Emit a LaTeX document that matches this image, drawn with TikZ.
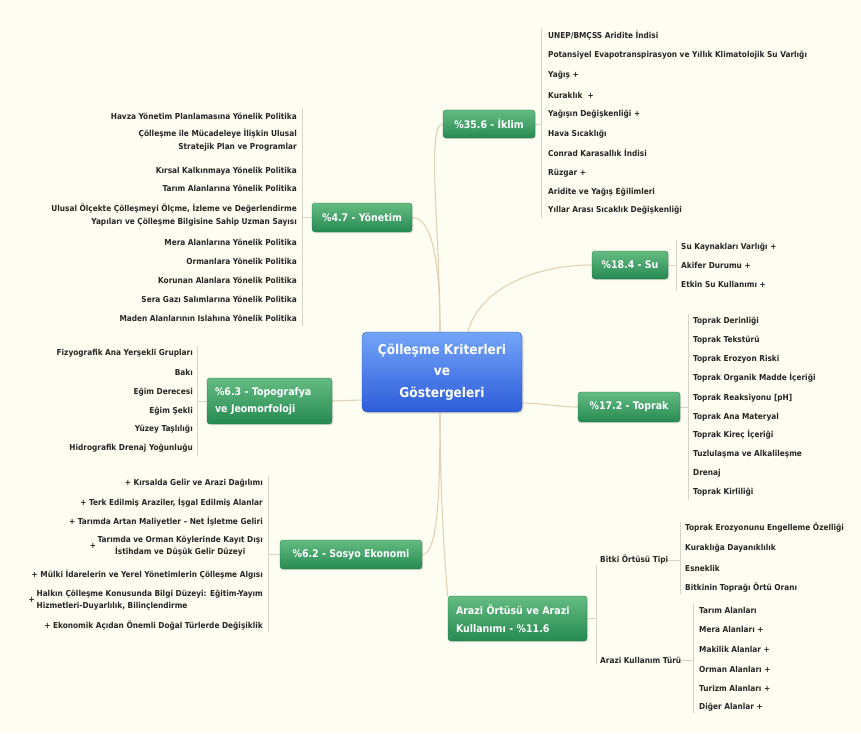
\documentclass[tikz,border=0pt]{standalone}
\usepackage{fontspec}
\setmainfont{DejaVu Sans Condensed}
\usetikzlibrary{shadows}
\definecolor{bgc}{RGB}{254,253,241}
\definecolor{gtop}{RGB}{100,188,130}
\definecolor{gbot}{RGB}{38,138,82}
\definecolor{btop}{RGB}{115,165,248}
\definecolor{bbot}{RGB}{45,92,218}
\definecolor{connc}{RGB}{222,211,182}
\definecolor{brkc}{RGB}{212,212,200}
\definecolor{leafc}{RGB}{38,38,38}
\pgfdeclarelayer{bottom}
\pgfdeclarelayer{bgl}
\pgfsetlayers{bottom,bgl,main}
\tikzset{
  branch/.style={rounded corners=3pt, top color=gtop, bottom color=gbot,
    draw=gbot!85!black, line width=0.3pt, text=white,
    font=\bfseries\fontsize{10.5}{17.5}\selectfont, inner sep=0pt,
    drop shadow={opacity=0.22, shadow xshift=1.2pt, shadow yshift=-1.2pt}},
  centre/.style={rounded corners=5pt, top color=btop, bottom color=bbot,
    draw=bbot!80!black, line width=0.4pt, text=white, align=center,
    font=\bfseries\fontsize{13.5}{21.5}\selectfont, inner sep=0pt,
    minimum width=160pt, minimum height=80pt,
    drop shadow={opacity=0.25, shadow xshift=1.5pt, shadow yshift=-1.5pt}},
  leafL/.style={anchor=west, inner sep=0pt, text=leafc,
    font=\bfseries\fontsize{8.2}{12.5}\selectfont},
  leafR/.style={leafL, anchor=east, align=right},
  connline/.style={draw=connc, line width=1.1pt},
  brkline/.style={draw=brkc, line width=0.8pt}
}
\begin{document}
\begin{tikzpicture}[x=1pt,y=-1pt]
\begin{pgfonlayer}{bottom}
\fill[bgc] (0,0) rectangle (861,733);
\end{pgfonlayer}
\useasboundingbox (0,0) rectangle (861,733);

% central topic
\node[centre] (c) at (442,372) {Çölleşme Kriterleri\\ve\\Göstergeleri};

% main branches
\node[branch, minimum width=92pt, minimum height=28pt] (ik) at (489,124) {\%35.6 - İklim};
\node[branch, minimum width=100pt, minimum height=29pt] (yo) at (362,217.5) {\%4.7 - Yönetim};
\node[branch, minimum width=76pt, minimum height=28pt] (su) at (630,265) {\%18.4 - Su};
\node[branch, minimum width=102pt, minimum height=30pt] (tp) at (629,407) {\%17.2 - Toprak};
\node[branch, minimum width=125pt, minimum height=46pt, align=left, text width=109pt] (to) at (269.5,401) {\%6.3 - Topografya\\ve Jeomorfoloji};
\node[branch, minimum width=142pt, minimum height=29pt] (so) at (351,554.5) {\%6.2 - Sosyo Ekonomi};
\node[branch, minimum width=139pt, minimum height=45pt, align=left, text width=123pt] (ar) at (517.5,618.5) {Arazi Örtüsü ve Arazi\\Kullanımı - \%11.6};

% Iklim leaves
\foreach \t/\y [count=\k] in {
  {UNEP/BMÇSS Aridite İndisi}/36,
  {Potansiyel Evapotranspirasyon ve Yıllık Klimatolojik Su Varlığı}/55,
  {Yağış +}/75,
  {Kuraklık \ +}/95,
  {Yağışın Değişkenliği +}/114,
  {Hava Sıcaklığı}/134,
  {Conrad Karasallık İndisi}/153,
  {Rüzgar +}/173,
  {Aridite ve Yağış Eğilimleri}/192,
  {Yıllar Arası Sıcaklık Değişkenliği}/210}
  \node[leafL, name=ikl\k] at (548,\y) {\t};

% Yonetim leaves
\foreach \t/\y [count=\k] in {
  {Havza Yönetim Planlamasına Yönelik Politika}/116,
  {Çölleşme ile Mücadeleye İlişkin Ulusal\\Stratejik Plan ve Programlar}/140,
  {Kırsal Kalkınmaya Yönelik Politika}/171,
  {Tarım Alanlarına Yönelik Politika}/188,
  {Ulusal Ölçekte Çölleşmeyi Ölçme, İzleme ve Değerlendirme\\Yapıları ve Çölleşme Bilgisine Sahip Uzman Sayısı}/215,
  {Mera Alanlarına Yönelik Politika}/242,
  {Ormanlara Yönelik Politika}/261,
  {Korunan Alanlara Yönelik Politika}/280,
  {Sera Gazı Salımlarına Yönelik Politika}/299,
  {Maden Alanlarının Islahına Yönelik Politika}/318}
  \node[leafR, name=yol\k] at (297,\y) {\t};

% Topografya leaves
\foreach \t/\y [count=\k] in {
  {Fizyografik Ana Yerşekli Grupları}/353,
  {Bakı}/372,
  {Eğim Derecesi}/392,
  {Eğim Şekli}/411,
  {Yüzey Taşlılığı}/429,
  {Hidrografik Drenaj Yoğunluğu}/448}
  \node[leafR, name=tol\k] at (193,\y) {\t};

% Su leaves
\foreach \t/\y [count=\k] in {
  {Su Kaynakları Varlığı +}/247,
  {Akifer Durumu +}/265,
  {Etkin Su Kullanımı +}/284}
  \node[leafL, name=sul\k] at (681,\y) {\t};

% Toprak leaves
\foreach \t/\y [count=\k] in {
  {Toprak Derinliği}/321,
  {Toprak Tekstürü}/340,
  {Toprak Erozyon Riski}/359,
  {Toprak Organik Madde İçeriği}/378,
  {Toprak Reaksiyonu [pH]}/398,
  {Toprak Ana Materyal}/417,
  {Toprak Kireç İçeriği}/435,
  {Tuzlulaşma ve Alkalileşme}/454,
  {Drenaj}/473,
  {Toprak Kirliliği}/492}
  \node[leafL, name=tpl\k] at (693,\y) {\t};

% Sosyo Ekonomi leaves
\foreach \t/\y [count=\k] in {
  {+ Kırsalda Gelir ve Arazi Dağılımı}/483,
  {+ Terk Edilmiş Araziler, İşgal Edilmiş Alanlar}/503,
  {+ Tarımda Artan Maliyetler – Net İşletme Geliri}/522,
  {+ Mülki İdarelerin ve Yerel Yönetimlerin Çölleşme Algısı}/575,
  {+ Ekonomik Açıdan Önemli Doğal Türlerde Değişiklik}/626}
  \node[leafR, name=sol\k] at (263,\y) {\t};
\node[leafR, align=center, font=\bfseries\fontsize{8.2}{12}\selectfont] (sol6) at (263,546) {Tarımda ve Orman Köylerinde Kayıt Dışı\\İstihdam ve Düşük Gelir Düzeyi};
\node[leafR, align=left, font=\bfseries\fontsize{8.2}{12}\selectfont] (sol7) at (263,600) {Halkın Çölleşme Konusunda Bilgi Düzeyi: Eğitim-Yayım\\Hizmetleri-Duyarlılık, Bilinçlendirme};
\node[leafR] (solp6) at (sol6.west) {+\,};
\node[leafR] (solp7) at (sol7.west) {+\,};

% Arazi sub-branches
\node[leafL] (bt) at (600,560) {Bitki Örtüsü Tipi};
\node[leafL] (ak) at (600,660) {Arazi Kullanım Türü};
\foreach \t/\y [count=\k] in {
  {Toprak Erozyonunu Engelleme Özelliği}/528,
  {Kuraklığa Dayanıklılık}/548,
  {Esneklik}/568,
  {Bitkinin Toprağı Örtü Oranı}/588}
  \node[leafL, name=btl\k] at (685,\y) {\t};
\foreach \t/\y [count=\k] in {
  {Tarım Alanları}/610,
  {Mera Alanları +}/629,
  {Makilik Alanlar +}/649,
  {Orman Alanları +}/669,
  {Turizm Alanları +}/688,
  {Diğer Alanlar +}/707}
  \node[leafL, name=akl\k] at (699,\y) {\t};

% bracket coordinates
\coordinate (ikb) at (541,124);
\coordinate (ikt) at (541,28);  \coordinate (ikd) at (541,218);
\coordinate (yob) at (302,217.5);
\coordinate (yot) at (302,108); \coordinate (yod) at (302,326);
\coordinate (tob) at (197,401);
\coordinate (tot) at (197,346); \coordinate (tod) at (197,456);
\coordinate (sub) at (676,265);
\coordinate (sut) at (676,240); \coordinate (sud) at (676,291);
\coordinate (tpb) at (688,407);
\coordinate (tpt) at (688,314); \coordinate (tpd) at (688,500);
\coordinate (sob) at (268,554.5);
\coordinate (sot) at (268,476); \coordinate (sod) at (268,632);
\coordinate (arb) at (596,618.5);
\coordinate (art) at (596,565); \coordinate (ard) at (596,664);
\coordinate (btb) at (680,560);
\coordinate (btt) at (680,522); \coordinate (btd) at (680,594);
\coordinate (akb) at (693,660);
\coordinate (akt) at (693,603); \coordinate (akd) at (693,713);

\begin{pgfonlayer}{bgl}
  % connectors from the central topic
  \draw[connline] ([xshift=-2pt]c.north) .. controls (440,230) and (426,124) .. (ik.west);
  \draw[connline] ([xshift=-2pt]c.north) .. controls (440,262) and (432,217.5) .. (yo.east);
  \draw[connline] ([xshift=26pt]c.north) .. controls (478,292) and (530,265) .. (su.west);
  \draw[connline] ([yshift=-31pt]c.east) .. controls (550,404) and (560,407) .. (tp.west);
  \draw[connline] ([yshift=-28pt]c.west) -- (to.east);
  \draw[connline] ([xshift=-2pt]c.south) .. controls (440,492) and (438,554.5) .. (so.east);
  \draw[connline] ([xshift=-2pt]c.south) .. controls (440,500) and (445,560) .. ([xshift=-70pt]ar.north);
  % brackets
  \draw[brkline] (ik.east) -- (ikb);  \draw[brkline] (ikt) -- (ikd);
  \draw[brkline] (yo.west) -- (yob);  \draw[brkline] (yot) -- (yod);
  \draw[brkline] (to.west) -- (tob);  \draw[brkline] (tot) -- (tod);
  \draw[brkline] (su.east) -- (sub);  \draw[brkline] (sut) -- (sud);
  \draw[brkline] (tp.east) -- (tpb);  \draw[brkline] (tpt) -- (tpd);
  \draw[brkline] (so.west) -- (sob);  \draw[brkline] (sot) -- (sod);
  \draw[brkline] (ar.east) -- (arb);  \draw[brkline] (art) -- (ard);
  \draw[brkline] (bt.east) -- (btb);  \draw[brkline] (btt) -- (btd);
  \draw[brkline] (ak.east) -- (akb);  \draw[brkline] (akt) -- (akd);
\end{pgfonlayer}
\end{tikzpicture}
\end{document}
